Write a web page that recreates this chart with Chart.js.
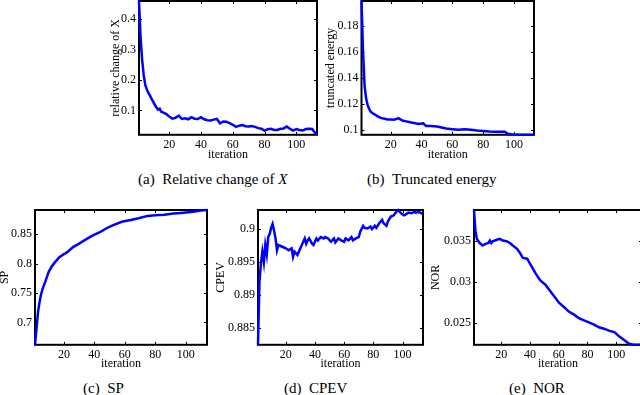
<!DOCTYPE html>
<html>
<head>
<meta charset="utf-8">
<script src="https://cdn.jsdelivr.net/npm/chart.js@4.4.0/dist/chart.umd.min.js"></script>
<style>
  html, body { margin: 0; padding: 0; background: #fff; }
  body { width: 640px; height: 395px; overflow: hidden; position: relative;
         font-family: "Liberation Serif", "Times New Roman", serif; }
  canvas { position: absolute; }
  .cap { position: absolute; font-size: 15px; line-height: 18px; white-space: nowrap; color: #000; }
</style>
</head>
<body>
<canvas id="chartA"></canvas>
<canvas id="chartB"></canvas>
<canvas id="chartC"></canvas>
<canvas id="chartD"></canvas>
<canvas id="chartE"></canvas>

<div class="cap" style="left:138px; top:170px;">(a)&nbsp;&nbsp;Relative change of <i>X</i></div>
<div class="cap" style="left:367px; top:170px;">(b)&nbsp;&nbsp;Truncated energy</div>
<div class="cap" style="left:83px; top:379px;">(c)&nbsp;&nbsp;SP</div>
<div class="cap" style="left:284px; top:379px;">(d)&nbsp;&nbsp;CPEV</div>
<div class="cap" style="left:509px; top:379px;">(e)&nbsp;&nbsp;NOR</div>

<script>
// ===== data =====
const xTicks = [20, 40, 60, 80, 100];

// (a) relative change of X
const relIter = [1, 2, 3, 4, 5, 6, 7, 8, 9, 10, 11, 12, 13, 14, 15, 16, 18, 20, 22, 24, 26, 28, 30, 32, 34, 36, 38, 40,
  42, 44, 46, 48, 50, 52, 54, 56, 58, 60, 62, 64, 66, 68, 70, 72, 74, 76, 78, 80, 82, 84, 86, 88, 90, 92, 94, 96, 98,
  100, 102, 104, 106, 108, 110, 111, 112, 113];
const relVal = [0.46, 0.34, 0.265, 0.215, 0.183, 0.168, 0.157, 0.148, 0.137, 0.128, 0.118, 0.110, 0.103, 0.106, 0.096,
  0.094, 0.089, 0.080, 0.073, 0.076, 0.083, 0.072, 0.074, 0.071, 0.078, 0.073, 0.072, 0.078, 0.071, 0.068, 0.067, 0.070,
  0.072, 0.058, 0.064, 0.063, 0.058, 0.053, 0.046, 0.050, 0.052, 0.048, 0.047, 0.049, 0.046, 0.042, 0.040, 0.034, 0.038,
  0.040, 0.036, 0.036, 0.040, 0.041, 0.047, 0.040, 0.034, 0.039, 0.036, 0.034, 0.039, 0.040, 0.039, 0.032, 0.025, 0.020];
const relTicks = [0.1, 0.2, 0.3, 0.4];

// (b) truncated energy
const truIter = [1, 2, 3, 4, 5, 6, 7, 8, 10, 12, 14, 16, 18, 20, 22, 24, 25, 26, 28, 30, 32, 34, 36, 38, 40, 41, 43, 46,
  48, 50, 53, 56, 60, 64, 66, 68, 72, 76, 80, 84, 88, 92, 94, 96, 98, 100, 104, 108, 113];
const truVal = [0.199, 0.160, 0.134, 0.124, 0.119, 0.116, 0.114, 0.113, 0.1115, 0.110, 0.109, 0.1085, 0.108, 0.108,
  0.1078, 0.1085, 0.109, 0.1083, 0.107, 0.1065, 0.106, 0.1055, 0.105, 0.1046, 0.1048, 0.105, 0.103, 0.103, 0.1028,
  0.1025, 0.1018, 0.101, 0.1005, 0.100, 0.1003, 0.1005, 0.1000, 0.0995, 0.0992, 0.0988, 0.0986, 0.0985, 0.0985, 0.097,
  0.0966, 0.0965, 0.0963, 0.0962, 0.0962];
const truTicks = [0.1, 0.12, 0.14, 0.16, 0.18];

// (c) SP
const spIter = [1, 2, 3, 4, 5, 6, 8, 10, 12, 14, 17, 20, 22, 26, 30, 35, 39, 44, 48, 52, 58, 64, 69, 75, 80, 86, 92, 97,
  105, 110, 114];
const spVal = [0.662, 0.690, 0.718, 0.735, 0.748, 0.757, 0.771, 0.786, 0.795, 0.802, 0.811, 0.816, 0.819, 0.828, 0.834,
  0.842, 0.848, 0.854, 0.860, 0.865, 0.871, 0.874, 0.877, 0.881, 0.882, 0.883, 0.885, 0.886, 0.888, 0.890, 0.891];
const spTicks = [0.7, 0.75, 0.8, 0.85];

// (d) CPEV
const cpIter = [1, 2, 3, 4, 5, 6, 7, 8, 9, 10, 11, 12, 13, 14, 15, 18, 20, 22, 24, 25, 26, 28, 29, 31, 33, 34, 35, 36,
  38, 39, 41, 42, 44, 46, 47, 49, 51, 53, 54, 56, 58, 60, 61, 63, 65, 66, 68, 70, 71, 73, 74, 76, 78, 79, 81, 82, 84,
  86, 87, 89, 90, 92, 94, 96, 97, 99, 101, 102, 104, 106, 108, 109, 111, 113, 114];
const cpVal = [0.8825, 0.8920, 0.8948, 0.8966, 0.8950, 0.8976, 0.8962, 0.8988, 0.8993, 0.9002, 0.9008, 0.8998, 0.8986,
  0.8968, 0.8976, 0.8973, 0.8971, 0.8968, 0.8971, 0.8958, 0.8966, 0.8961, 0.8966, 0.8976, 0.8986, 0.8978, 0.8983,
  0.8986, 0.8978, 0.8976, 0.8986, 0.8983, 0.8988, 0.8986, 0.8988, 0.8986, 0.8981, 0.8986, 0.8980, 0.8986, 0.8983,
  0.8981, 0.8986, 0.8983, 0.8988, 0.8983, 0.8986, 0.8988, 0.8996, 0.9005, 0.9002, 0.9001, 0.9004, 0.9000, 0.9005,
  0.9002, 0.9009, 0.9014, 0.9009, 0.9005, 0.9012, 0.9019, 0.9021, 0.9027, 0.9029, 0.9024, 0.9021, 0.9022, 0.9025,
  0.9024, 0.9026, 0.9025, 0.9026, 0.9024, 0.9023];
const cpTicks = [0.885, 0.89, 0.895, 0.9];

// (e) NOR
const norIter = [1, 2, 3, 5, 7, 9, 11, 12, 13, 14, 17, 19, 21, 24, 26, 28, 31, 33, 35, 38, 39, 41, 44, 47, 51, 54, 58,
  60, 64, 67, 71, 74, 78, 81, 85, 88, 92, 95, 99, 102, 106, 109, 112, 118];
const norVal = [0.0387, 0.0362, 0.0352, 0.0347, 0.0344, 0.0346, 0.0347, 0.0350, 0.0347, 0.0349, 0.0351, 0.0352, 0.0350,
  0.0349, 0.0347, 0.0344, 0.0340, 0.0335, 0.0329, 0.0328, 0.0325, 0.0319, 0.0310, 0.0302, 0.0296, 0.0289, 0.0280,
  0.0275, 0.0269, 0.0264, 0.0260, 0.0256, 0.0253, 0.0251, 0.0248, 0.0245, 0.0243, 0.0241, 0.0239, 0.0234, 0.0229,
  0.0225, 0.02238, 0.02238];
const norTicks = [0.025, 0.03, 0.035];

// ===== MATLAB-style box with inward ticks (drawn under the line) =====
const boxPlugin = {
  id: "matlabBox",
  beforeDatasetsDraw(chart) {
    const { ctx, chartArea: a, scales: { x, y } } = chart;
    ctx.save();
    ctx.strokeStyle = "#000";
    ctx.lineWidth = 1;
    ctx.beginPath();
    x.ticks.forEach(t => {
      const px = Math.round(x.getPixelForValue(t.value)) + 0.5;
      ctx.moveTo(px, a.bottom); ctx.lineTo(px, a.bottom - 3);
      ctx.moveTo(px, a.top); ctx.lineTo(px, a.top + 3);
    });
    y.ticks.forEach(t => {
      const py = Math.round(y.getPixelForValue(t.value)) + 0.5;
      ctx.moveTo(a.left, py); ctx.lineTo(a.left + 3, py);
      ctx.moveTo(a.right, py); ctx.lineTo(a.right - 3, py);
    });
    ctx.stroke();
    ctx.lineWidth = 2;
    ctx.strokeRect(a.left, a.top, a.right - a.left, a.bottom - a.top);
    ctx.restore();
  }
};

const font = { family: "'Liberation Serif', 'Times New Roman', serif", size: 12 };

function makePanel(id, iters, vals, yTicks, yTitle, box, xMax) {
  const padTop = 4, padRight = 6;
  const left = Math.round(box.yTitleX - 7.2);
  const top = box.t - padTop;
  const yAxisW = box.l - left;
  const xAxisH = box.xTitleY + 7.2 - box.b;
  const w = Math.round(box.r - left + padRight);
  const h = Math.round(padTop + (box.b - box.t) + xAxisH);

  const canvas = document.getElementById(id);
  canvas.width = w;
  canvas.height = h;
  canvas.style.left = left + "px";
  canvas.style.top = top + "px";
  canvas.style.width = w + "px";
  canvas.style.height = h + "px";

  return new Chart(canvas.getContext("2d"), {
    type: "line",
    data: {
      datasets: [{
        data: iters.map((it, i) => ({ x: it, y: vals[i] })),
        borderColor: "#0000ff",
        borderWidth: 2.5,
        pointRadius: 0,
        tension: 0,
        fill: false,
        clip: 2
      }]
    },
    options: {
      responsive: false,
      animation: false,
      layout: { padding: { top: padTop, right: padRight, bottom: 0, left: 0 } },
      plugins: { legend: { display: false }, tooltip: { enabled: false } },
      scales: {
        x: {
          type: "linear",
          min: iters[0],
          max: xMax || iters[iters.length - 1],
          grid: { display: false, drawTicks: false },
          border: { display: false },
          ticks: { color: "#000", font, padding: 3, autoSkip: false, maxRotation: 0,
                   callback: v => String(v) },
          title: { display: true, text: "iteration", color: "#000", font, padding: 0 },
          afterBuildTicks: s => { s.ticks = xTicks.map(v => ({ value: v })); },
          afterFit: s => { s.height = xAxisH; s.paddingLeft = 0; s.paddingRight = 0; }
        },
        y: {
          type: "linear",
          min: Math.min(...vals),
          max: Math.max(...vals),
          grid: { display: false, drawTicks: false },
          border: { display: false },
          ticks: { color: "#000", font, padding: 3, autoSkip: false,
                   callback: v => String(v) },
          title: { display: true, text: yTitle, color: "#000", font, padding: 0 },
          afterBuildTicks: s => { s.ticks = yTicks.map(v => ({ value: v })); },
          afterFit: s => { s.width = yAxisW; s.paddingTop = 0; s.paddingBottom = 0; }
        }
      }
    },
    plugins: [boxPlugin]
  });
}

makePanel("chartA", relIter, relVal, relTicks, "relative change of X",
  { l: 139, t: 1, r: 317, b: 135, yTitleX: 116, xTitleY: 155 });
makePanel("chartB", truIter, truVal, truTicks, "truncated energy",
  { l: 361.5, t: 1, r: 533.5, b: 135, yTitleX: 331.5, xTitleY: 155 });
makePanel("chartC", spIter, spVal, spTicks, "SP",
  { l: 35, t: 210, r: 207, b: 345, yTitleX: 5, xTitleY: 364 });
makePanel("chartD", cpIter, cpVal, cpTicks, "CPEV",
  { l: 258, t: 210, r: 423, b: 345, yTitleX: 221.5, xTitleY: 364 });
makePanel("chartE", norIter, norVal, norTicks, "NOR",
  { l: 474, t: 210, r: 642, b: 345, yTitleX: 436.5, xTitleY: 364 });
</script>
</body>
</html>
